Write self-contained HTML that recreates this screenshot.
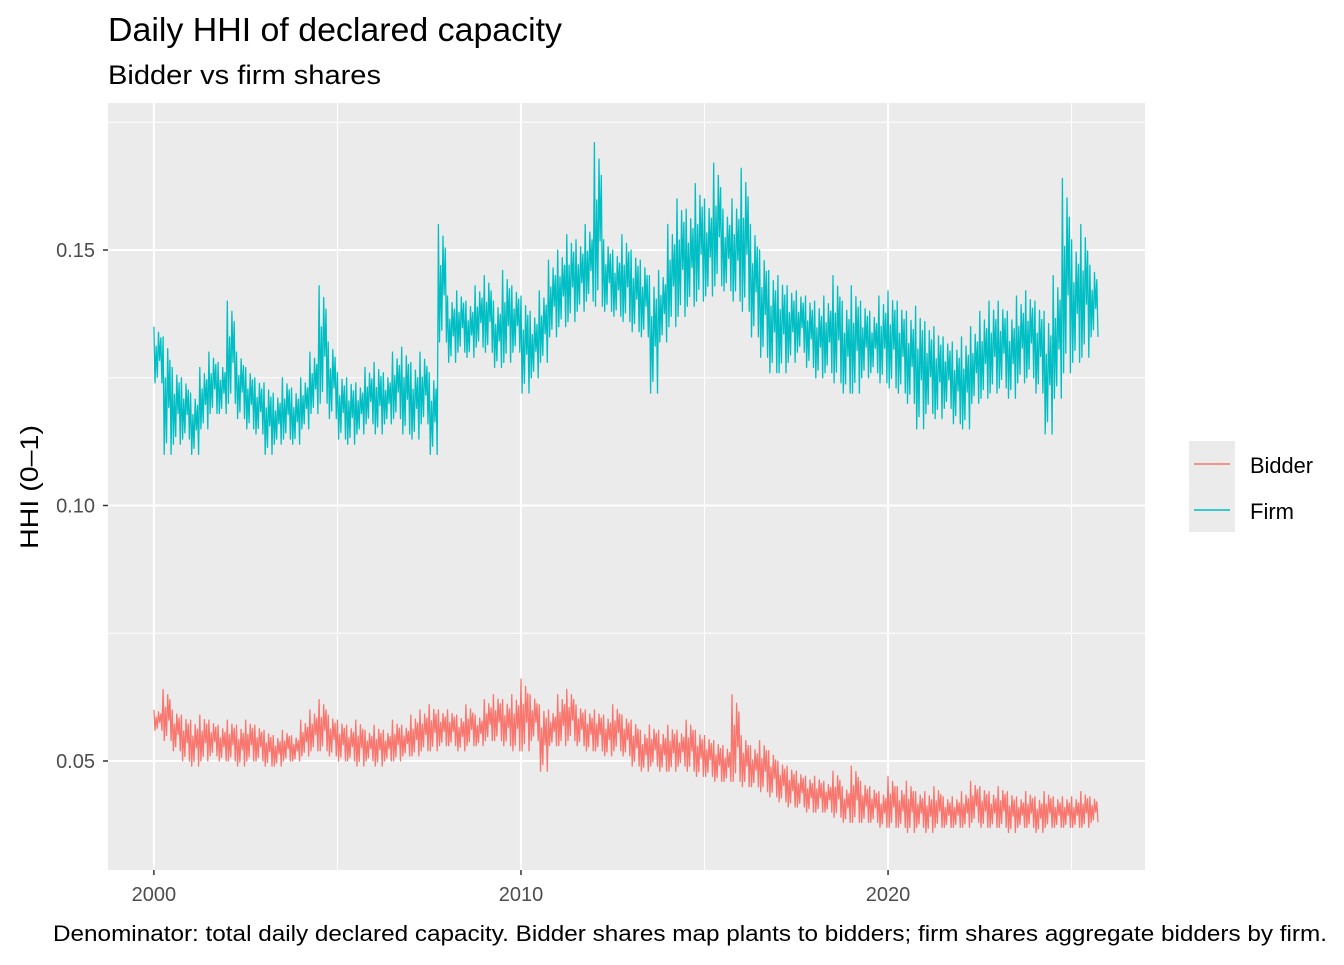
<!DOCTYPE html>
<html><head><meta charset="utf-8">
<style>
body{margin:0;background:#fff;font-family:"Liberation Sans",Arial,sans-serif;}
svg text{font-family:"Liberation Sans",Arial,sans-serif;}
</style></head>
<body>
<svg id="chart" width="1344" height="960" viewBox="0 0 1344 960" xmlns="http://www.w3.org/2000/svg">
<rect width="1344" height="960" fill="#fff"/>
<text x="108" y="41" font-size="33" textLength="454" lengthAdjust="spacingAndGlyphs" fill="#000">Daily HHI of declared capacity</text>
<text x="108" y="84" font-size="27" textLength="273" lengthAdjust="spacingAndGlyphs" fill="#000">Bidder vs firm shares</text>
<rect x="108" y="103" width="1037" height="767" fill="#ebebeb"/>
<g id="grid"></g>
<g id="series"></g>
<g id="axes"></g>
<text transform="translate(38,487) rotate(-90)" text-anchor="middle" font-size="25" textLength="124" lengthAdjust="spacingAndGlyphs" fill="#000">HHI (0–1)</text>
<g>
<rect x="1189" y="441" width="46" height="91" fill="#ebebeb"/>
<line x1="1194" y1="464" x2="1230" y2="464" stroke="#F8766D" stroke-width="1.5"/>
<line x1="1194" y1="510" x2="1230" y2="510" stroke="#00BFC4" stroke-width="1.5"/>
<text x="1250" y="473" font-size="22" textLength="63" lengthAdjust="spacingAndGlyphs" fill="#000">Bidder</text>
<text x="1250" y="519" font-size="22" textLength="44" lengthAdjust="spacingAndGlyphs" fill="#000">Firm</text>
</g>
<text x="53" y="941" font-size="22" textLength="1274" lengthAdjust="spacingAndGlyphs" fill="#000">Denominator: total daily declared capacity. Bidder shares map plants to bidders; firm shares aggregate bidders by firm.</text>
</svg>
<script>
const startYear = 2000;
const xTicks = [2000, 2010, 2020];
const xMinor = [2005, 2015, 2025];
const yTicks = [0.05, 0.10, 0.15];
const yTickLabels = ["0.05", "0.10", "0.15"];
const yMinor = [0.075, 0.125, 0.175];
const firmHi = [.135,.133,.127,.125, .122,.127,.130,.128, .140,.130,.127,.125, .124,.122,.125,.123, .125,.130,.143,.132, .126,.125,.124,.127, .128,.126,.130,.131, .128,.130,.126,.155, .141,.142,.140,.143, .145,.140,.146,.143, .141,.138,.142,.148, .150,.153,.152,.155, .171,.152,.150,.153, .150,.148,.145,.146, .155,.160,.158,.163, .160,.167,.158,.160, .166,.155,.150,.146, .145,.143,.142,.141, .140,.141,.145,.140, .143,.140,.138,.141, .142,.140,.138,.139, .136,.135,.133,.132, .133,.135,.138,.140, .140,.138,.141,.142, .140,.138,.145,.164, .152,.155,.147];
const firmLo = [.124,.110,.112,.113, .110,.115,.118,.118, .120,.117,.115,.114, .110,.112,.113,.112, .115,.118,.120,.117, .113,.112,.114,.116, .114,.116,.117,.114, .113,.116,.110,.132, .128,.130,.129,.131, .130,.127,.128,.130, .122,.125,.128,.133, .135,.136,.138,.140, .139,.138,.137,.136, .134,.133,.122,.132, .135,.137,.139,.140, .141,.143,.142,.140, .138,.133,.129,.126, .126,.128,.130,.127, .125,.126,.124,.122, .122,.125,.126,.124, .123,.122,.120,.115, .118,.117,.119,.116, .115,.120,.121,.122, .123,.121,.124,.125, .122,.114,.121,.126, .128,.129,.133];
const bidderHi = [.060,.064,.060,.059, .058,.059,.058,.057, .058,.057,.058,.057, .056,.055,.056,.055, .058,.060,.062,.059, .058,.057,.058,.056, .057,.056,.058,.057, .059,.060,.061,.060, .060,.059,.061,.059, .062,.063,.062,.063, .066,.063,.061,.060, .063,.064,.061,.060, .060,.059,.061,.059, .058,.056,.057,.056, .057,.056,.058,.056, .055,.054,.053,.063, .055,.053,.054,.052, .050,.049,.048,.047, .047,.046,.048,.045, .049,.046,.045,.044, .047,.045,.046,.044, .044,.045,.043,.043, .044,.046,.045,.044, .045,.044,.043,.044, .043,.044,.043,.043, .043,.044,.043];
const bidderLo = [.056,.054,.052,.050, .049,.050,.051,.050, .050,.049,.050,.050, .049,.049,.050,.050, .051,.052,.052,.051, .050,.050,.049,.050, .049,.050,.050,.051, .051,.052,.052,.053, .053,.052,.053,.053, .054,.054,.053,.052, .052,.054,.048,.053, .053,.054,.053,.052, .052,.051,.052,.051, .049,.048,.049,.048, .048,.049,.048,.047, .047,.046,.046,.046, .045,.045,.044,.043, .042,.041,.041,.040, .040,.040,.039,.038, .038,.038,.038,.037, .037,.037,.036,.037, .036,.037,.037,.037, .037,.038,.037,.037, .037,.036,.037,.037, .036,.037,.037,.037, .037,.037,.038];

const NS = "http://www.w3.org/2000/svg";
const px = {l:108, r:1145, t:103, b:870};
const xDom = [1998.75, 2027.0], yDom = [0.02867, 0.17877];
function xs(v){ return px.l + (v - xDom[0]) / (xDom[1] - xDom[0]) * (px.r - px.l); }
function ys(v){ return px.b - (v - yDom[0]) / (yDom[1] - yDom[0]) * (px.b - px.t); }
function mk(tag, attrs, parent){ const e = document.createElementNS(NS, tag); for (const k in attrs) e.setAttribute(k, attrs[k]); parent.appendChild(e); return e; }

const grid = document.getElementById('grid');
yMinor.forEach(v => { const l = mk('line', {x1:px.l, x2:px.r, y1:ys(v), y2:ys(v), stroke:'#fff', 'stroke-width':1}, grid);
  
   });
xMinor.forEach(v => { const l = mk('line', {x1:xs(v), x2:xs(v), y1:px.t, y2:px.b, stroke:'#fff', 'stroke-width':1}, grid);
  
   });
yTicks.forEach(v => { const l = mk('line', {x1:px.l, x2:px.r, y1:ys(v), y2:ys(v), stroke:'#fff', 'stroke-width':2}, grid);
  
   });
xTicks.forEach(v => { const l = mk('line', {x1:xs(v), x2:xs(v), y1:px.t, y2:px.b, stroke:'#fff', 'stroke-width':2}, grid);
  
   });

const axes = document.getElementById('axes');
yTicks.forEach((v, i) => {
  mk('line', {x1:px.l-5, x2:px.l, y1:ys(v), y2:ys(v), stroke:'#333', 'stroke-width':1.5}, axes);
  const t = mk('text', {x:px.l-13, y:ys(v)+7, 'text-anchor':'end', 'font-size':20, fill:'#4d4d4d'}, axes);
  t.textContent = yTickLabels[i];
  
  
});
xTicks.forEach(v => {
  mk('line', {x1:xs(v), x2:xs(v), y1:px.b, y2:px.b+5, stroke:'#333', 'stroke-width':1.5}, axes);
  const t = mk('text', {x:xs(v), y:px.b+31, 'text-anchor':'middle', 'font-size':20, fill:'#4d4d4d'}, axes);
  t.textContent = String(v);
  
  
});

const series = document.getElementById('series');
function drawSeries(hi, lo, color, name){
  const pattern = [0, 1, 0.35, 0.9, 0.1, 0.6, 0.2, 1];
  let d = '';
  for (let q = 0; q < hi.length; q++) {
    for (let k = 0; k < pattern.length; k++) {
      const t = startYear + q * 0.25 + k * 0.25 / pattern.length;
      const v = hi[q] - pattern[k] * (hi[q] - lo[q]);
      d += (d ? 'L' : 'M') + xs(t).toFixed(1) + ',' + ys(v).toFixed(1);
    }
  }
  const p = mk('path', {d:d, fill:'none', stroke:color, 'stroke-width':1.3, 'stroke-linejoin':'round'}, series);
  
  
}
drawSeries(bidderHi, bidderLo, '#F8766D', 'bidder-line');
drawSeries(firmHi, firmLo, '#00BFC4', 'firm-line');
</script>
</body></html>
